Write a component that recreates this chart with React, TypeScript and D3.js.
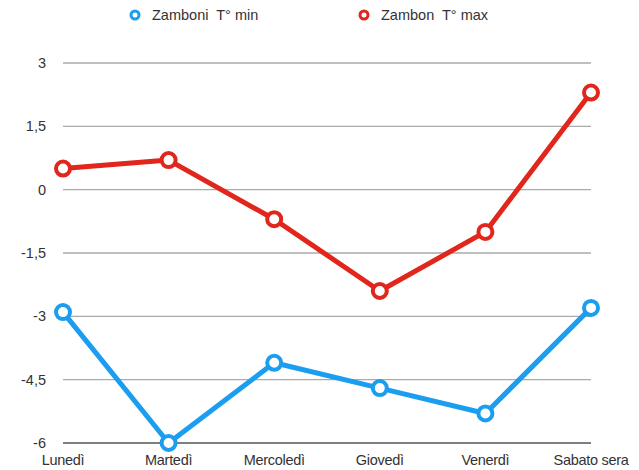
import React from "react";
import * as d3 from "d3";

const categories = ["Lunedì", "Martedì", "Mercoledì", "Giovedì", "Venerdì", "Sabato sera"];
const minValues = [-2.9, -6.0, -4.1, -4.7, -5.3, -2.8];
const maxValues = [0.5, 0.7, -0.7, -2.4, -1.0, 2.3];
const yTicks = [3, 1.5, 0, -1.5, -3, -4.5, -6];
const seriesNames = ["Zamboni  T° min", "Zambon  T° max"];
const seriesColors = ["#1b9df0", "#e1261c"];

const W = 639;
const H = 470;

export default function App() {
  const x = d3.scalePoint<string>().domain(categories).range([63, 591]);
  const y = d3.scaleLinear().domain([-6, 3]).range([443, 63]);
  const line = d3
    .line<number>()
    .x((_, i) => x(categories[i]) as number)
    .y((d) => y(d));
  const fmt = (v: number) => String(v).replace(".", ",");
  const series = [minValues, maxValues];
  const font = "Helvetica, 'Liberation Sans', Arial, sans-serif";

  return (
    <svg
      width={W}
      height={H}
      style={{ position: "absolute", left: 0, top: 0, background: "#fff" }}
      fontFamily={font}
    >
      {yTicks.map((t) => (
        <g key={t}>
          <line
            x1={63}
            x2={591}
            y1={y(t)}
            y2={y(t)}
            stroke={t === -6 ? "#555" : "#aaa"}
            strokeWidth={t === -6 ? 1.6 : 1.3}
          />
          <text x={46} y={y(t)} dy="0.35em" textAnchor="end" fontSize={14.5} fill="#333">
            {fmt(t)}
          </text>
        </g>
      ))}
      {categories.map((c) => (
        <text key={c} x={x(c)} y={465} textAnchor="middle" fontSize={14.5} letterSpacing={-0.3} fill="#333">
          {c}
        </text>
      ))}
      {series.map((s, si) => (
        <g key={si}>
          <path d={line(s) || ""} fill="none" stroke={seriesColors[si]} strokeWidth={5} strokeLinejoin="round" />
          {s.map((v, i) => (
            <circle
              key={i}
              cx={x(categories[i])}
              cy={y(v)}
              r={7}
              fill="#fff"
              stroke={seriesColors[si]}
              strokeWidth={4}
            />
          ))}
        </g>
      ))}
      {seriesNames.map((n, i) => {
        const lx = i === 0 ? 135 : 364;
        return (
          <g key={n}>
            <circle cx={lx} cy={15} r={4} fill="#fff" stroke={seriesColors[i]} strokeWidth={3} />
            <text
              x={lx + 17}
              y={15}
              dy="0.35em"
              fontSize={14.5}
              fill="#333"
              style={{ whiteSpace: "pre" }}
            >
              {n}
            </text>
          </g>
        );
      })}
    </svg>
  );
}
